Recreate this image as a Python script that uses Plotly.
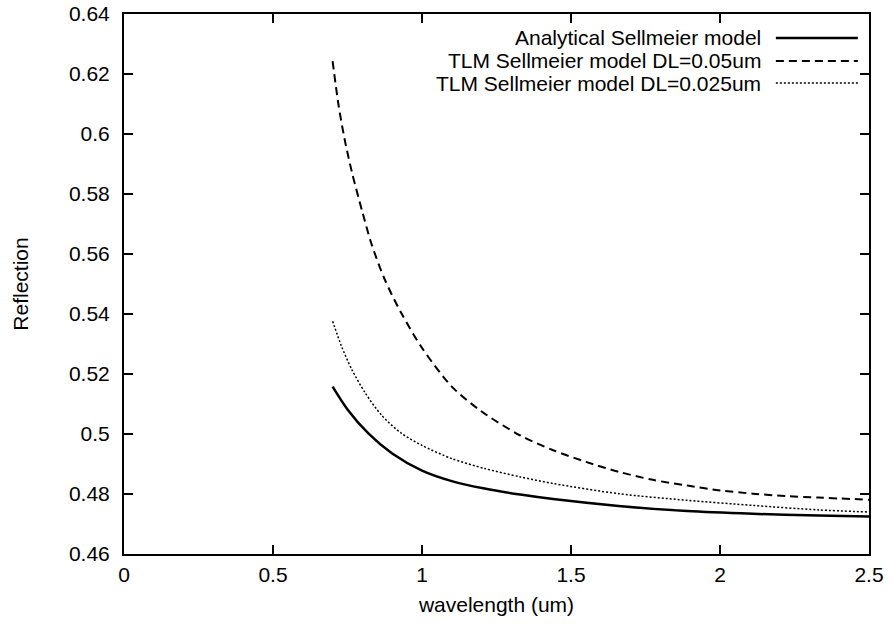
import plotly.graph_objects as go

# Data
wl_analytical = [0.70, 0.75, 0.82, 0.90, 1.0, 1.1, 1.21, 1.33, 1.44, 1.66, 1.89, 2.11, 2.33, 2.5]
r_analytical = [0.5158, 0.5082, 0.5002, 0.4935, 0.4878, 0.4843, 0.4818, 0.4798, 0.4783,
                0.4760, 0.4743, 0.4734, 0.4728, 0.4725]

wl_dl05 = [0.70, 0.72, 0.74, 0.765, 0.80, 0.83, 0.875, 0.93, 1.0, 1.1, 1.2, 1.33, 1.44,
           1.55, 1.66, 1.77, 1.89, 2.0, 2.11, 2.22, 2.33, 2.5]
r_dl05 = [0.6243, 0.6096, 0.5984, 0.5872, 0.5740, 0.5635, 0.5515, 0.5404, 0.5287, 0.5158,
          0.5075, 0.4995, 0.4946, 0.4907, 0.4874, 0.4848, 0.4828, 0.4812, 0.4801, 0.4793,
          0.4788, 0.4781]

wl_dl025 = [0.70, 0.73, 0.765, 0.81, 0.865, 0.93, 1.0, 1.1, 1.21, 1.33, 1.44, 1.66, 1.89,
            2.11, 2.33, 2.5]
r_dl025 = [0.5376, 0.5292, 0.5214, 0.5136, 0.5062, 0.5003, 0.4962, 0.4918, 0.4885, 0.4857,
           0.4835, 0.4801, 0.4779, 0.4762, 0.4747, 0.4740]

legend_labels = ["Analytical Sellmeier model",
                 "TLM Sellmeier model DL=0.05um",
                 "TLM Sellmeier model DL=0.025um"]

x_ticks = [0, 0.5, 1, 1.5, 2, 2.5]
x_ticktext = ["0", "0.5", "1", "1.5", "2", "2.5"]
y_ticks = [0.46, 0.48, 0.50, 0.52, 0.54, 0.56, 0.58, 0.60, 0.62, 0.64]
y_ticktext = ["0.46", "0.48", "0.5", "0.52", "0.54", "0.56", "0.58", "0.6", "0.62", "0.64"]

FONT = "Liberation Sans, Arial, sans-serif"
FS = 21

styles = [dict(color="black", width=2.5, dash="solid"),
          dict(color="black", width=2, dash="8px,5px"),
          dict(color="black", width=1.5, dash="2px,2px")]

fig = go.Figure()
for xs, ys, name, st in zip([wl_analytical, wl_dl05, wl_dl025],
                            [r_analytical, r_dl05, r_dl025],
                            legend_labels, styles):
    fig.add_trace(go.Scatter(x=xs, y=ys, mode="lines", name=name,
                             line=dict(shape="spline", smoothing=0.8, **st),
                             showlegend=False))

# gnuplot-style key: right-aligned text with line sample to its right
key_rows_y = [0.9556, 0.913, 0.872]
for label, st, yk in zip(legend_labels, styles, key_rows_y):
    fig.add_annotation(xref="paper", yref="paper", x=0.8577, y=yk, text=label,
                       showarrow=False, xanchor="right", yanchor="middle",
                       font=dict(family=FONT, size=FS, color="black"))
    fig.add_shape(type="line", xref="paper", yref="paper",
                  x0=0.875, x1=0.985, y0=yk, y1=yk,
                  line=dict(color=st["color"], width=st["width"], dash=st["dash"]))

axis_common = dict(showgrid=False, zeroline=False, showline=True, linecolor="black",
                   linewidth=2, mirror="ticks", ticks="inside", ticklen=9,
                   tickwidth=1.5, tickcolor="black", automargin=False,
                   ticklabeloverflow="allow",
                   tickfont=dict(family=FONT, size=FS, color="black"))

fig.update_xaxes(range=[0, 2.5], tickvals=x_ticks, ticktext=x_ticktext,
                 title=dict(text="wavelength (um)", font=dict(family=FONT, size=FS, color="black"),
                            standoff=12),
                 ticklabelstandoff=1, **axis_common)
fig.update_yaxes(range=[0.46, 0.64], tickvals=y_ticks, ticktext=y_ticktext,
                 title=dict(text="Reflection", font=dict(family=FONT, size=FS, color="black"),
                            standoff=35),
                 ticklabelstandoff=8, **axis_common)

fig.update_layout(width=891, height=624, plot_bgcolor="white", paper_bgcolor="white",
                  margin=dict(l=124, r=22, t=14, b=70),
                  font=dict(family=FONT, size=FS, color="black"))

# remove the default 8px page margin so the figure sits at the window origin
fig.write_html("out.html", config={"displayModeBar": False},
               post_script="document.body.style.margin='0';")
